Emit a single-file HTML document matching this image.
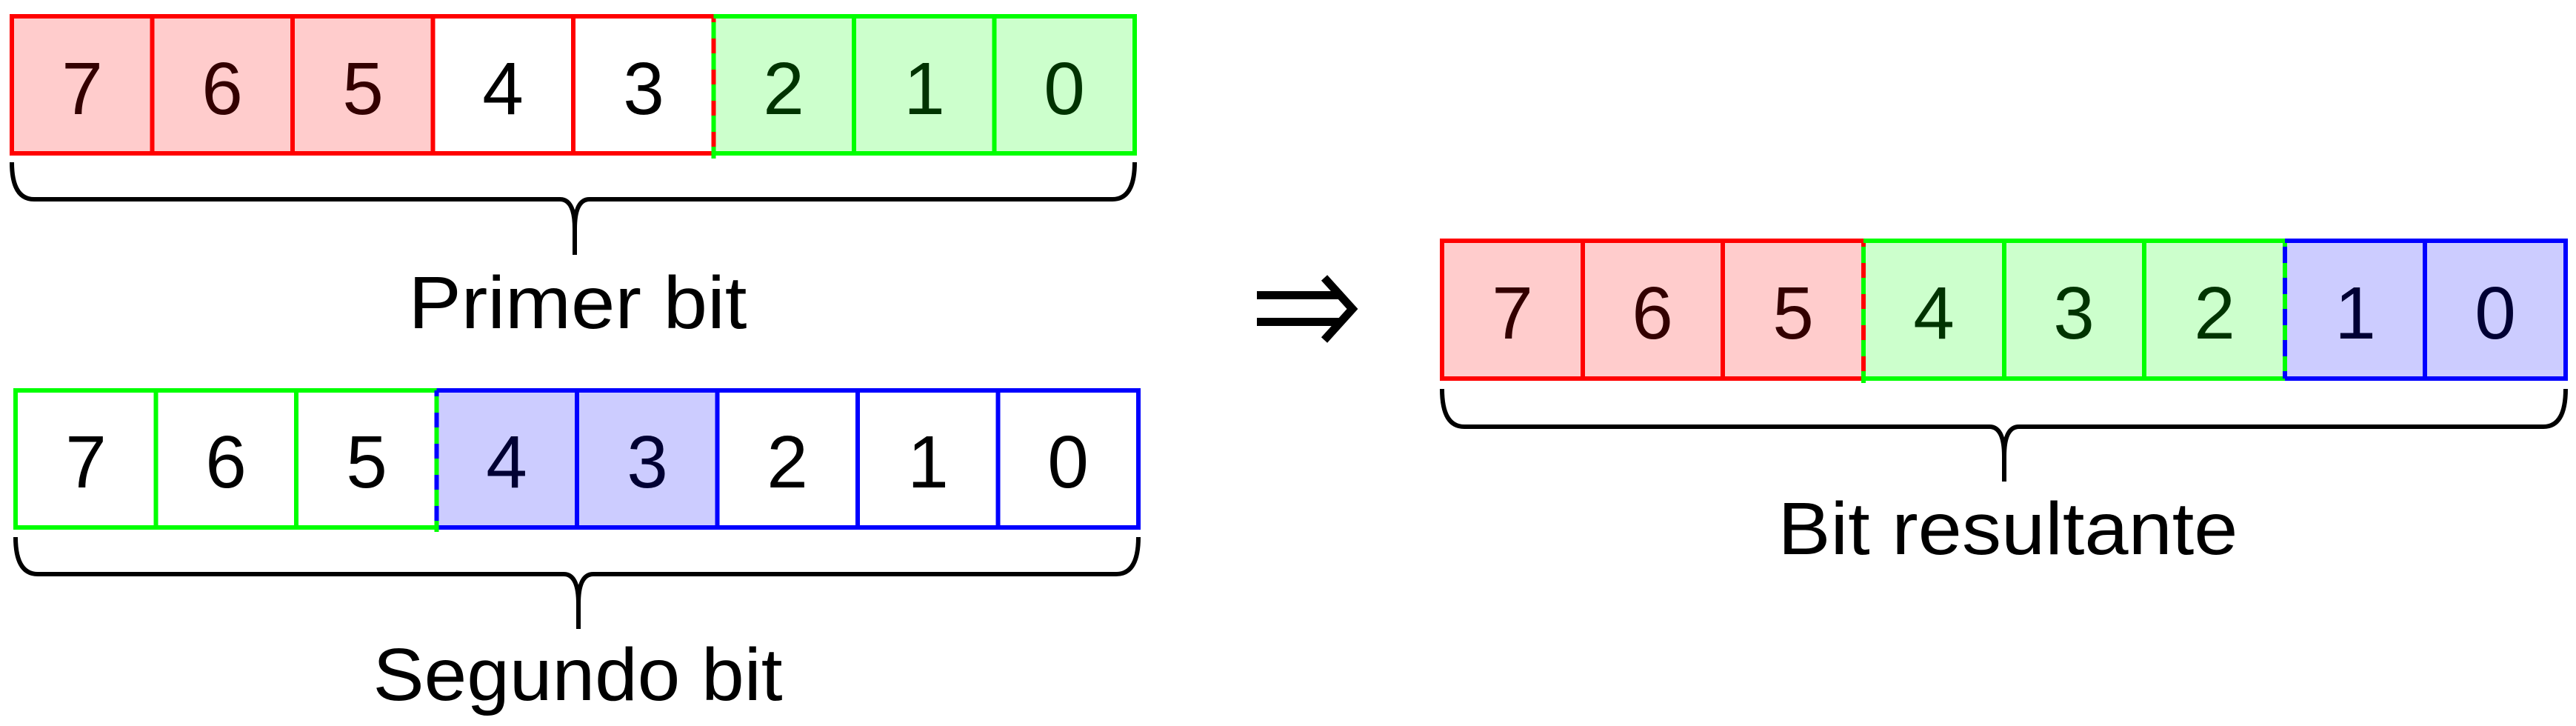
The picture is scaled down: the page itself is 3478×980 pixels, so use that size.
<!DOCTYPE html>
<html><head><meta charset="utf-8"><style>
html,body{margin:0;padding:0;background:#fff;}
svg{display:block;}
text{font-family:"Liberation Sans",sans-serif;}
</style></head><body>
<svg width="3478" height="980" viewBox="0 0 3478 980" xmlns="http://www.w3.org/2000/svg">
<!-- Row 1 -->
<g>
<rect x="16" y="22" width="568.5" height="185" fill="#ffcccc"/>
<rect x="584.5" y="22" width="379" height="185" fill="#fff"/>
<rect x="963.5" y="22" width="568.5" height="185" fill="#ccffcc"/>
<g stroke="#ff0000" stroke-width="6" fill="none">
<line x1="13" y1="22" x2="963.5" y2="22"/><line x1="13" y1="207" x2="963.5" y2="207"/>
<line x1="16" y1="22" x2="16" y2="207"/><line x1="205.5" y1="22" x2="205.5" y2="207"/><line x1="395" y1="22" x2="395" y2="207"/><line x1="584.5" y1="22" x2="584.5" y2="207"/><line x1="774" y1="22" x2="774" y2="207"/><line x1="963.5" y1="22" x2="963.5" y2="207"/>
</g>
<g stroke="#00ff00" stroke-width="6" fill="none">
<line x1="963.5" y1="22" x2="1535" y2="22"/><line x1="963.5" y1="207" x2="1535" y2="207"/>
<line x1="1153" y1="22" x2="1153" y2="207"/><line x1="1342.5" y1="22" x2="1342.5" y2="207"/><line x1="1532" y1="22" x2="1532" y2="207"/>
<line x1="963.5" y1="30" x2="963.5" y2="214" stroke-dasharray="22 20"/>
</g>
<g font-size="100" text-anchor="middle">
<text x="111" y="154" fill="#330000">7</text><text x="300" y="154" fill="#330000">6</text><text x="490" y="154" fill="#330000">5</text>
<text x="679" y="154" fill="#000">4</text><text x="869" y="154" fill="#000">3</text>
<text x="1058" y="154" fill="#003300">2</text><text x="1248" y="154" fill="#003300">1</text><text x="1437" y="154" fill="#003300">0</text>
</g>
<path d="M16 219 Q16 269 46 269 L756 269 Q776 269 776 309 L776 344 M1532 219 Q1532 269 1502 269 L796 269 Q776 269 776 309" stroke="#000" stroke-width="6" fill="none"/>
<text x="780" y="443" font-size="100" text-anchor="middle" textLength="457" lengthAdjust="spacingAndGlyphs">Primer bit</text>
</g>
<!-- Row 2 -->
<g>
<rect x="589.5" y="527" width="379" height="185" fill="#ccccff"/>
<g stroke="#00ff00" stroke-width="6" fill="none">
<line x1="18" y1="527" x2="589.5" y2="527"/><line x1="18" y1="712" x2="589.5" y2="712"/>
<line x1="21" y1="527" x2="21" y2="712"/><line x1="210.5" y1="527" x2="210.5" y2="712"/><line x1="400" y1="527" x2="400" y2="712"/>
</g>
<g stroke="#0000ff" stroke-width="6" fill="none">
<line x1="589.5" y1="527" x2="1540" y2="527"/><line x1="589.5" y1="712" x2="1540" y2="712"/>
<line x1="589.5" y1="527" x2="589.5" y2="712"/><line x1="779" y1="527" x2="779" y2="712"/><line x1="968.5" y1="527" x2="968.5" y2="712"/><line x1="1158" y1="527" x2="1158" y2="712"/><line x1="1347.5" y1="527" x2="1347.5" y2="712"/><line x1="1537" y1="527" x2="1537" y2="712"/>
</g>
<line x1="589.5" y1="535" x2="589.5" y2="718" stroke="#00ff00" stroke-width="6" stroke-dasharray="22 20"/>
<g font-size="100" text-anchor="middle">
<text x="116" y="658">7</text><text x="305" y="658">6</text><text x="495" y="658">5</text>
<text x="684" y="658" fill="#000033">4</text><text x="874" y="658" fill="#000033">3</text>
<text x="1063" y="658">2</text><text x="1253" y="658">1</text><text x="1442" y="658">0</text>
</g>
<path d="M21 725 Q21 775 51 775 L761 775 Q781 775 781 815 L781 849 M1537 725 Q1537 775 1507 775 L801 775 Q781 775 781 815" stroke="#000" stroke-width="6" fill="none"/>
<text x="780" y="945" font-size="100" text-anchor="middle" textLength="553" lengthAdjust="spacingAndGlyphs">Segundo bit</text>
</g>
<!-- Arrow -->
<g stroke="#000" stroke-width="11" fill="none">
<line x1="1697" y1="398.5" x2="1812" y2="398.5"/><line x1="1697" y1="434.5" x2="1812" y2="434.5"/>
<polyline points="1788,375 1826,417 1788,459"/>
</g>
<!-- Row 3 -->
<g>
<rect x="1947" y="325" width="569" height="186" fill="#ffcccc"/>
<rect x="2516" y="325" width="569" height="186" fill="#ccffcc"/>
<rect x="3085" y="325" width="379" height="186" fill="#ccccff"/>
<g stroke="#ff0000" stroke-width="6" fill="none">
<line x1="1944" y1="325" x2="2516" y2="325"/><line x1="1944" y1="511" x2="2516" y2="511"/>
<line x1="1947" y1="325" x2="1947" y2="511"/><line x1="2137" y1="325" x2="2137" y2="511"/><line x1="2326" y1="325" x2="2326" y2="511"/><line x1="2516" y1="325" x2="2516" y2="511"/>
</g>
<g stroke="#00ff00" stroke-width="6" fill="none">
<line x1="2516" y1="325" x2="3085" y2="325"/><line x1="2516" y1="511" x2="3085" y2="511"/>
<line x1="2706" y1="325" x2="2706" y2="511"/><line x1="2895" y1="325" x2="2895" y2="511"/><line x1="3085" y1="325" x2="3085" y2="511"/>
<line x1="2516" y1="333" x2="2516" y2="517" stroke-dasharray="22 20"/>
</g>
<g stroke="#0000ff" stroke-width="6" fill="none">
<line x1="3085" y1="325" x2="3467" y2="325"/><line x1="3085" y1="511" x2="3467" y2="511"/>
<line x1="3274" y1="325" x2="3274" y2="511"/><line x1="3464" y1="325" x2="3464" y2="511"/>
<line x1="3085" y1="333" x2="3085" y2="511" stroke-dasharray="22 20"/>
</g>
<g font-size="100" text-anchor="middle">
<text x="2042" y="457" fill="#330000">7</text><text x="2231" y="457" fill="#330000">6</text><text x="2421" y="457" fill="#330000">5</text>
<text x="2611" y="457" fill="#003300">4</text><text x="2800" y="457" fill="#003300">3</text><text x="2990" y="457" fill="#003300">2</text>
<text x="3180" y="457" fill="#000033">1</text><text x="3369" y="457" fill="#000033">0</text>
</g>
<path d="M1947 525 Q1947 576 1977 576 L2686 576 Q2706 576 2706 616 L2706 650 M3464 525 Q3464 576 3434 576 L2726 576 Q2706 576 2706 616" stroke="#000" stroke-width="6" fill="none"/>
<text x="2711" y="748" font-size="100" text-anchor="middle" textLength="621" lengthAdjust="spacingAndGlyphs">Bit resultante</text>
</g>
</svg>
</body></html>
